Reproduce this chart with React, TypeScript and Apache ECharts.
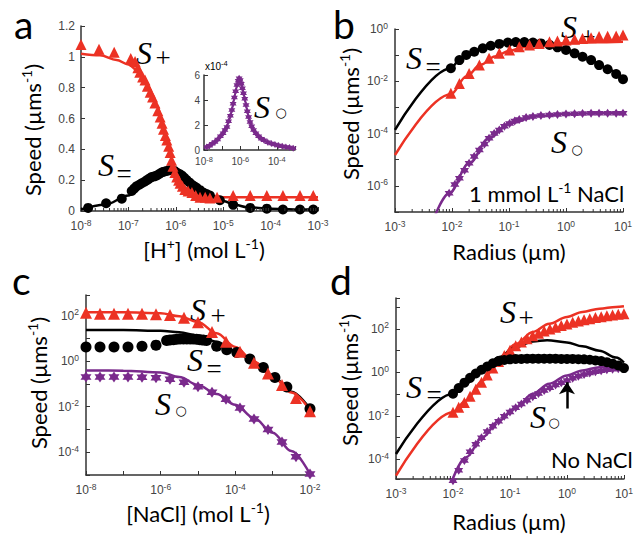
import React, { useEffect, useRef } from 'react';
import * as echarts from 'echarts';

const RED = '#ec3224';
const BLACK = '#000000';
const PURPLE = '#7a2a8c';
const AX = '#333333';
const SANS = 'Lato, "Open Sans", sans-serif';
const TICKF = '"Liberation Sans", Arial, sans-serif';
const SERIF = '"Liberation Serif", "DejaVu Serif", serif';

// ---------- Panel a : x = log10[H+], y = speed (µm/s) ----------
const aPlusFit = [[-8,1.02],[-7.6,1.01],[-7.25,0.98],[-7.0,0.95],[-6.8,0.91],[-6.6,0.82],[-6.4,0.68],[-6.2,0.47],[-6.0,0.26],[-5.8,0.15],[-5.6,0.11],[-5.4,0.095],[-5.0,0.09],[-4.0,0.09],[-3.0,0.09]];
const aPlusPts = [[-8,1.08],[-7.62,1.05],[-7.3,1.03],[-6.95,0.99],[-6.86,0.97],[-6.8,0.93],[-6.76,0.9],[-6.7,0.87],[-6.65,0.85],[-6.6,0.81],[-6.54,0.77],[-6.49,0.74],[-6.44,0.7],[-6.38,0.65],[-6.33,0.61],[-6.29,0.57],[-6.26,0.53],[-6.22,0.49],[-6.19,0.46],[-6.15,0.42],[-6.12,0.38],[-6.09,0.33],[-6.06,0.29],[-6.02,0.25],[-5.98,0.22],[-5.94,0.2],[-5.91,0.18],[-5.86,0.16],[-5.81,0.14],[-5.74,0.13],[-5.66,0.12],[-5.58,0.1],[-5.49,0.09],[-5.38,0.09],[-5.28,0.085],[-5.13,0.09],[-4.79,0.1],[-4.43,0.1],[-4.08,0.1],[-3.74,0.1],[-3.38,0.1],[-3.1,0.1]];
const aEqFit = [[-8,0.01],[-7.5,0.04],[-7,0.1],[-6.75,0.17],[-6.5,0.22],[-6.25,0.255],[-6.1,0.265],[-5.95,0.25],[-5.75,0.2],[-5.5,0.14],[-5.25,0.1],[-5,0.065],[-4.75,0.04],[-4.5,0.025],[-4,0.015],[-3.5,0.01],[-3,0.01]];
const aEqPts = [[-7.85,0.02],[-7.47,0.05],[-7.14,0.08],[-6.93,0.13],[-6.88,0.145],[-6.83,0.16],[-6.77,0.17],[-6.72,0.18],[-6.66,0.19],[-6.61,0.2],[-6.56,0.21],[-6.51,0.22],[-6.45,0.225],[-6.4,0.23],[-6.35,0.24],[-6.3,0.25],[-6.25,0.255],[-6.19,0.26],[-6.14,0.265],[-6.09,0.265],[-6.03,0.26],[-5.98,0.25],[-5.92,0.24],[-5.87,0.23],[-5.82,0.215],[-5.77,0.2],[-5.71,0.185],[-5.66,0.17],[-5.61,0.16],[-5.56,0.15],[-5.49,0.135],[-5.42,0.12],[-5.35,0.11],[-5.28,0.1],[-5.07,0.07],[-4.79,0.04],[-4.43,0.02],[-4.08,0.015],[-3.74,0.01],[-3.38,0.01],[-3.1,0.01]];
// inset: speed in units of 1e-4
const aZeroPts = [[-7.85,0.25],[-7.7,0.35],[-7.55,0.5],[-7.4,0.65],[-7.25,0.85],[-7.1,1.1],[-6.95,1.35],[-6.85,1.6],[-6.74,1.85],[-6.65,2.3],[-6.55,2.75],[-6.47,3.2],[-6.4,3.7],[-6.33,4.2],[-6.26,4.7],[-6.19,5.2],[-6.12,5.55],[-6.07,5.75],[-6.01,5.6],[-5.95,5.3],[-5.89,4.95],[-5.83,4.55],[-5.76,4.1],[-5.69,3.6],[-5.62,3.1],[-5.55,2.65],[-5.47,2.25],[-5.38,1.9],[-5.28,1.6],[-5.15,1.35],[-5.0,1.1],[-4.85,0.9],[-4.7,0.78],[-4.5,0.62],[-4.3,0.52],[-4.1,0.44],[-3.9,0.36],[-3.7,0.3],[-3.5,0.25],[-3.3,0.2],[-3.1,0.15]];

// ---------- Panel b : log10 radius, log10 speed ----------
const bEqFit = [[-3,-3.86],[-2.02,-1.5],[-1.87,-1.19],[-1.75,-0.99],[-1.5,-0.77],[-1.25,-0.6],[-1,-0.52],[-0.75,-0.5],[-0.5,-0.53],[-0.25,-0.63],[0,-0.8],[0.25,-1.02],[0.5,-1.27],[0.75,-1.56],[1,-1.92]];
const bEqPts = [[-2.02,-1.5],[-1.87,-1.19],[-1.75,-0.99],[-1.61,-0.87],[-1.46,-0.74],[-1.32,-0.64],[-1.17,-0.57],[-1.02,-0.52],[-0.88,-0.5],[-0.73,-0.5],[-0.58,-0.52],[-0.44,-0.55],[-0.29,-0.61],[-0.15,-0.7],[0,-0.8],[0.15,-0.93],[0.29,-1.06],[0.44,-1.19],[0.58,-1.38],[0.73,-1.54],[0.88,-1.72],[1.0,-1.92]];
const bPlusFit = [[-3,-4.82],[-2.02,-2.5],[-1.75,-1.82],[-1.5,-1.37],[-1.25,-1.05],[-1,-0.84],[-0.75,-0.7],[-0.5,-0.62],[-0.25,-0.57],[0,-0.54],[0.5,-0.51],[1,-0.49]];
const bPlusPts = [[-2.02,-2.46],[-1.87,-2.08],[-1.7,-1.7],[-1.52,-1.38],[-1.35,-1.12],[-1.17,-0.93],[-0.99,-0.8],[-0.82,-0.68],[-0.64,-0.61],[-0.47,-0.55],[-0.29,-0.49],[-0.15,-0.46],[0,-0.42],[0.15,-0.39],[0.29,-0.36],[0.44,-0.33],[0.58,-0.29],[0.73,-0.28],[0.88,-0.27],[1.0,-0.23]];
const bZeroFit = [[-2.3,-7.15],[-2.05,-6.28],[-1.7,-5.14],[-1.35,-4.18],[-1,-3.61],[-0.5,-3.33],[0,-3.25],[0.5,-3.22],[1,-3.22]];
const bZeroPts = [[-2.05,-6.28],[-1.95,-5.95],[-1.87,-5.71],[-1.78,-5.4],[-1.7,-5.14],[-1.61,-4.88],[-1.52,-4.63],[-1.43,-4.4],[-1.35,-4.18],[-1.26,-4.0],[-1.17,-3.86],[-1.08,-3.72],[-0.99,-3.61],[-0.9,-3.52],[-0.82,-3.46],[-0.7,-3.39],[-0.58,-3.35],[-0.44,-3.31],[-0.29,-3.29],[-0.15,-3.27],[0,-3.25],[0.15,-3.24],[0.29,-3.23],[0.44,-3.22],[0.58,-3.22],[0.73,-3.22],[0.88,-3.22],[1.0,-3.22]];

// ---------- Panel c : log10 [NaCl], log10 speed ----------
const cX = [-8,-7.625,-7.25,-6.875,-6.5,-6.125,-5.75,-5.375,-5,-4.625,-4.25,-3.875,-3.5,-3.125,-2.75,-2.375,-2];
const cPlusY = [2.12,2.08,2.08,2.08,2.08,2.06,2.02,1.9,1.7,1.28,0.85,0.41,-0.07,-0.55,-1.05,-1.62,-2.2];
const cZeroY = [-0.7,-0.7,-0.7,-0.7,-0.71,-0.73,-0.8,-0.93,-1.13,-1.37,-1.68,-2.06,-2.54,-3.0,-3.55,-4.2,-4.96];
const cEqPts = [[-8,0.62],[-7.625,0.62],[-7.25,0.62],[-6.875,0.62],[-6.5,0.65],[-6.125,0.7],[-5.84,0.9],[-5.75,0.93],[-5.66,0.94],[-5.57,0.96],[-5.48,0.97],[-5.39,0.97],[-5.3,0.97],[-5.21,0.97],[-5.13,0.97],[-5.04,0.96],[-4.95,0.94],[-4.86,0.92],[-4.77,0.9],[-4.5,0.65],[-4.23,0.5],[-3.96,0.38],[-3.61,0.09],[-3.25,-0.28],[-2.94,-0.72],[-2.62,-1.14],[-2,-2.09]];
const cPlusFit = [[-8,2.14],[-7,2.14],[-6,2.1],[-5.5,1.97],[-5,1.72],[-4.5,1.22],[-4,0.62],[-3.5,-0.02],[-3,-0.68],[-2.5,-1.38],[-2,-2.15]];
const cEqFit = [[-8,1.36],[-7,1.36],[-6,1.33],[-5.5,1.27],[-5,1.12],[-4.5,0.85],[-4,0.45],[-3.5,-0.05],[-3,-0.65],[-2.5,-1.35],[-2,-2.1]];
const cZeroFit = [[-8,-0.41],[-7,-0.42],[-6,-0.5],[-5.5,-0.7],[-5,-1.05],[-4.5,-1.45],[-4,-1.92],[-3.5,-2.5],[-3,-3.15],[-2.5,-3.95],[-2,-4.96]];

// ---------- Panel d : log10 radius, log10 speed (no NaCl) ----------
const dX = [-2,-1.9,-1.8,-1.7,-1.6,-1.5,-1.4,-1.3,-1.2,-1.1,-1,-0.9,-0.8,-0.7,-0.6,-0.5,-0.4,-0.3,-0.2,-0.1,0,0.1,0.2,0.3,0.4,0.5,0.6,0.7,0.8,0.9,1];
const dEqY = [-0.98,-0.72,-0.47,-0.25,-0.05,0.12,0.27,0.42,0.52,0.57,0.6,0.62,0.62,0.63,0.63,0.63,0.63,0.63,0.63,0.62,0.62,0.62,0.61,0.6,0.58,0.55,0.52,0.47,0.4,0.32,0.2];
const dPlusY = [-1.83,-1.6,-1.38,-1.1,-0.78,-0.45,-0.12,0.2,0.5,0.78,1.02,1.22,1.4,1.55,1.68,1.8,1.9,2.0,2.08,2.16,2.23,2.3,2.36,2.42,2.47,2.52,2.56,2.6,2.64,2.67,2.7];
const dZeroY = [-4.98,-4.5,-4.05,-3.65,-3.3,-3.0,-2.72,-2.47,-2.24,-2.02,-1.82,-1.63,-1.45,-1.28,-1.12,-0.97,-0.83,-0.7,-0.58,-0.47,-0.37,-0.27,-0.18,-0.1,-0.03,0.03,0.08,0.12,0.15,0.17,0.17];
const dEqFit = [[-3,-3.75],[-2,-0.98],[-1.77,-0.52],[-1.48,0.09],[-1.19,0.71],[-0.89,1.17],[-0.6,1.42],[-0.35,1.48],[0,1.38],[0.27,1.2],[0.57,1.0],[0.86,0.68],[1,0.45]];
const dPlusFit = [[-3,-4.75],[-2,-1.83],[-1.77,-1.29],[-1.48,-0.37],[-1.19,0.63],[-0.89,1.32],[-0.6,1.86],[-0.31,2.24],[0,2.55],[0.27,2.78],[0.57,2.93],[0.86,3.01],[1,3.04]];
const dZeroFit = [[-2.02,-5.0],[-1.77,-3.9],[-1.48,-2.98],[-1.19,-2.21],[-0.89,-1.6],[-0.6,-0.98],[-0.31,-0.52],[0,-0.14],[0.27,0.09],[0.57,0.24],[0.86,0.28],[1,0.2]];
const dArrow = [[0, -1.66], [0, -0.45]];

const STAR = 'path://M0,-10L2.89,-5L8.66,-5L5.77,0L8.66,5L2.89,5L0,10L-2.89,5L-8.66,5L-5.77,0L-8.66,-5L-2.89,-5Z';

const pw = (e: number) => Math.pow(10, e);
const lxy = (p: number[][]) => p.map(([x, y]) => [pw(x), pw(y)]);
const lx = (p: number[][]) => p.map(([x, y]) => [pw(x), y]);
const zipL = (xs: number[], ys: number[]) => xs.map((x, i) => [pw(x), pw(ys[i])]);

const tickRich = {
  b: { fontSize: 12, fontFamily: TICKF, color: '#444', lineHeight: 16 },
  s: { fontSize: 8.5, fontFamily: TICKF, color: '#444', lineHeight: 9, verticalAlign: 'top' },
};
const tickRichSmall = {
  b: { fontSize: 10, fontFamily: TICKF, color: '#444', lineHeight: 13 },
  s: { fontSize: 7.5, fontFamily: TICKF, color: '#444', lineHeight: 8, verticalAlign: 'top' },
};

const powLabel = (evenOnly: boolean) => (v: number) => {
  const l = Math.log10(v);
  const e = Math.round(l);
  if (Math.abs(l - e) > 1e-6) return '';
  if (evenOnly && e % 2 !== 0) return '';
  return `{b|10}{s|${e}}`;
};

const axLine = { show: true, lineStyle: { color: AX, width: 1.5 } };
const axTick = { show: true, inside: true, length: 4, lineStyle: { color: AX, width: 1 } };

function logAxis(gi: number, min: number, max: number, evenOnly: boolean, small = false) {
  return {
    gridIndex: gi, type: 'log', logBase: 10, min, max,
    axisLine: axLine, axisTick: axTick, splitLine: { show: false }, minorTick: { show: false },
    axisLabel: { formatter: powLabel(evenOnly), rich: small ? tickRichSmall : tickRich, margin: small ? 5 : 7, showMinLabel: true, showMaxLabel: true },
  };
}

function line(gi: number, data: number[][], color: string, width = 2.5) {
  return { type: 'line', xAxisIndex: gi, yAxisIndex: gi, data, symbol: 'none', smooth: 0.35, smoothMonotone: 'x',
    lineStyle: { color, width }, z: 2, silent: true };
}
function pts(gi: number, data: number[][], symbol: string, size: number, color: string) {
  return { type: 'scatter', xAxisIndex: gi, yAxisIndex: gi, data, symbol, symbolSize: size,
    itemStyle: { color, opacity: 1 }, z: 3, clip: false, silent: true };
}
function minor(gi: number, decades: number[], yMin: number) {
  const data: number[][] = [];
  decades.forEach((d) => { [2, 3, 4, 5, 6, 7, 8, 9].forEach((m) => data.push([m * pw(d), yMin])); });
  return {
    type: 'custom', xAxisIndex: gi, yAxisIndex: gi, data, silent: true, clip: false, z: 4,
    renderItem: (_p: any, api: any) => {
      const c = api.coord([api.value(0), api.value(1)]);
      return { type: 'line', shape: { x1: c[0], y1: c[1], x2: c[0], y2: c[1] - 3 }, style: { stroke: AX, lineWidth: 1 } };
    },
  };
}

function sLabel(cx: number, cy: number, sub: string, subX: number, subY: number) {
  const els: any[] = [
    { type: 'text', x: cx, y: cy, style: { text: 'S', font: `italic 32px ${SERIF}`, fill: '#000', align: 'center', verticalAlign: 'middle' } },
  ];
  if (sub === 'o') {
    els.push({ type: 'text', x: subX, y: subY, style: { text: '○', font: `13px "DejaVu Sans", sans-serif`, fill: '#000', align: 'center', verticalAlign: 'middle' } });
  } else {
    els.push({ type: 'text', x: subX, y: subY + 1, style: { text: sub, font: `27px ${SERIF}`, fill: '#000', align: 'center', verticalAlign: 'middle' } });
  }
  return els;
}

const titleRich = {
  t: { fontSize: 22, fontFamily: SANS, fill: '#000', lineHeight: 26 },
  u: { fontSize: 14, fontFamily: SANS, fill: '#000', lineHeight: 15, verticalAlign: 'top' },
};
function title(x: number, y: number, text: string, rot = 0) {
  return { type: 'text', x, y, rotation: rot, style: { text, rich: titleRich, align: 'center', verticalAlign: 'middle' } };
}
function letter(x: number, y: number, t: string) {
  return { type: 'text', x, y, style: { text: t, font: `39px ${SANS}`, fill: '#000', align: 'left', verticalAlign: 'middle' } };
}

export default function App() {
  const ref = useRef<HTMLDivElement>(null);
  useEffect(() => {
    if (!ref.current) return;
    const chart = echarts.init(ref.current, undefined, { renderer: 'svg' });
    const option: any = {
      animation: false,
      backgroundColor: '#fff',
      grid: [
        { left: 81, top: 26, width: 237, height: 185 },
        { left: 204, top: 75, width: 91, height: 75 },
        { left: 395, top: 29, width: 228, height: 183 },
        { left: 86, top: 295, width: 224, height: 180 },
        { left: 396, top: 298, width: 228, height: 181 },
      ],
      xAxis: [
        logAxis(0, 1e-8, 1e-3, false),
        logAxis(1, 1e-8, 1e-3, true, true),
        logAxis(2, 1e-3, 10, false),
        logAxis(3, 1e-8, 1e-2, true),
        logAxis(4, 1e-3, 10, false),
      ],
      yAxis: [
        { gridIndex: 0, type: 'value', min: 0, max: 1.2, interval: 0.2, axisLine: axLine, axisTick: axTick, splitLine: { show: false },
          axisLabel: { formatter: (v: number) => String(Math.round(v * 10) / 10), fontSize: 12, fontFamily: TICKF, color: '#444', margin: 6 } },
        { gridIndex: 1, type: 'value', min: 0, max: 6, interval: 2, axisLine: axLine, axisTick: axTick, splitLine: { show: false },
          axisLabel: { fontSize: 10, fontFamily: TICKF, color: '#444', margin: 4 } },
        logAxis(2, 1e-7, 1, true),
        logAxis(3, 1e-5, pw(2.9), true),
        logAxis(4, pw(-4.9), pw(3.42), true),
      ],
      series: [
        // a
        line(0, lx(aPlusFit), RED),
        line(0, lx(aEqFit), BLACK),
        pts(0, lx(aEqPts), 'circle', 10, BLACK),
        pts(0, lx(aPlusPts), 'triangle', 11, RED),
        minor(0, [-8, -7, -6, -5, -4], 0),
        // inset
        line(1, lx(aZeroPts), PURPLE, 2),
        pts(1, lx(aZeroPts), STAR, 7, PURPLE),
        // b
        line(2, lxy(bEqFit), BLACK),
        line(2, lxy(bPlusFit), RED),
        line(2, lxy(bZeroFit), PURPLE),
        pts(2, lxy(bEqPts), 'circle', 10, BLACK),
        pts(2, lxy(bPlusPts), 'triangle', 11, RED),
        pts(2, lxy(bZeroPts), STAR, 9, PURPLE),
        minor(2, [-3, -2, -1, 0], 1e-7),
        // c
        line(3, lxy(cEqFit), BLACK),
        line(3, lxy(cZeroFit), PURPLE),
        pts(3, lxy(cEqPts), 'circle', 11, BLACK),
        line(3, lxy(cPlusFit), RED),
        pts(3, zipL(cX, cPlusY), 'triangle', 12, RED),
        pts(3, zipL(cX, cZeroY), STAR, 11, PURPLE),
        // d
        line(4, lxy(dPlusFit), RED),
        line(4, lxy(dEqFit), BLACK),
        line(4, lxy(dZeroFit), PURPLE),
        pts(4, zipL(dX, dZeroY), STAR, 9, PURPLE),
        pts(4, zipL(dX, dPlusY), 'triangle', 11, RED),
        {
          ...pts(4, zipL(dX, dEqY), 'circle', 10, BLACK),
          markLine: {
            silent: true, symbol: ['none', 'arrow'], symbolSize: [12, 12],
            lineStyle: { color: '#000', width: 2.5, type: 'solid' }, label: { show: false },
            data: [[{ coord: [pw(dArrow[0][0]), pw(dArrow[0][1])] }, { coord: [pw(dArrow[1][0]), pw(dArrow[1][1])] }]],
          },
        },
        minor(4, [-3, -2, -1, 0], pw(-4.9)),
      ],
      graphic: [
        letter(14, 24, 'a'), letter(333, 24, 'b'), letter(12, 280, 'c'), letter(330, 280, 'd'),
        title(204, 249, '{t|[H}{u|+}{t|] (mol L}{u|-1}{t|)}'),
        title(32, 130, '{t|Speed (µms}{u|-1}{t|)}', Math.PI / 2),
        title(509, 251, '{t|Radius (µm)}'),
        title(350, 114, '{t|Speed (µms}{u|-1}{t|)}', Math.PI / 2),
        title(198, 513, '{t|[NaCl] (mol L}{u|-1}{t|)}'),
        title(38, 383, '{t|Speed (µms}{u|-1}{t|)}', Math.PI / 2),
        title(509, 521, '{t|Radius (µm)}'),
        title(349, 380, '{t|Speed (µms}{u|-1}{t|)}', Math.PI / 2),
        { type: 'text', x: 469, y: 193, style: { text: '{t|1 mmol L}{u|-1}{t| NaCl}', rich: titleRich, align: 'left', verticalAlign: 'middle' } },
        { type: 'text', x: 551, y: 459, style: { text: 'No NaCl', font: `22px ${SANS}`, fill: '#000', align: 'left', verticalAlign: 'middle' } },
        { type: 'text', x: 205, y: 66, style: { text: '{b|x10}{s|-4}', rich: tickRichSmall, align: 'left', verticalAlign: 'middle' } },
        ...sLabel(144, 53, '+', 163, 57),
        ...sLabel(106, 165, '=', 124, 173),
        ...sLabel(262, 107, 'o', 281, 112),
        ...sLabel(414, 58, '=', 433, 66),
        ...sLabel(569, 27, '+', 588, 36),
        ...sLabel(559, 142, 'o', 577, 149),
        ...sLabel(198, 310, '+', 218, 315),
        ...sLabel(195, 360, '=', 214, 368),
        ...sLabel(163, 404, 'o', 181, 410),
        ...sLabel(508, 312, '+', 526, 317),
        ...sLabel(414, 387, '=', 434, 394),
        ...sLabel(538, 417, 'o', 554, 422),
      ],
    };
    chart.setOption(option);
    return () => chart.dispose();
  }, []);
  return <div ref={ref} style={{ width: 636, height: 535, position: 'absolute', left: 0, top: 0 }} />;
}
